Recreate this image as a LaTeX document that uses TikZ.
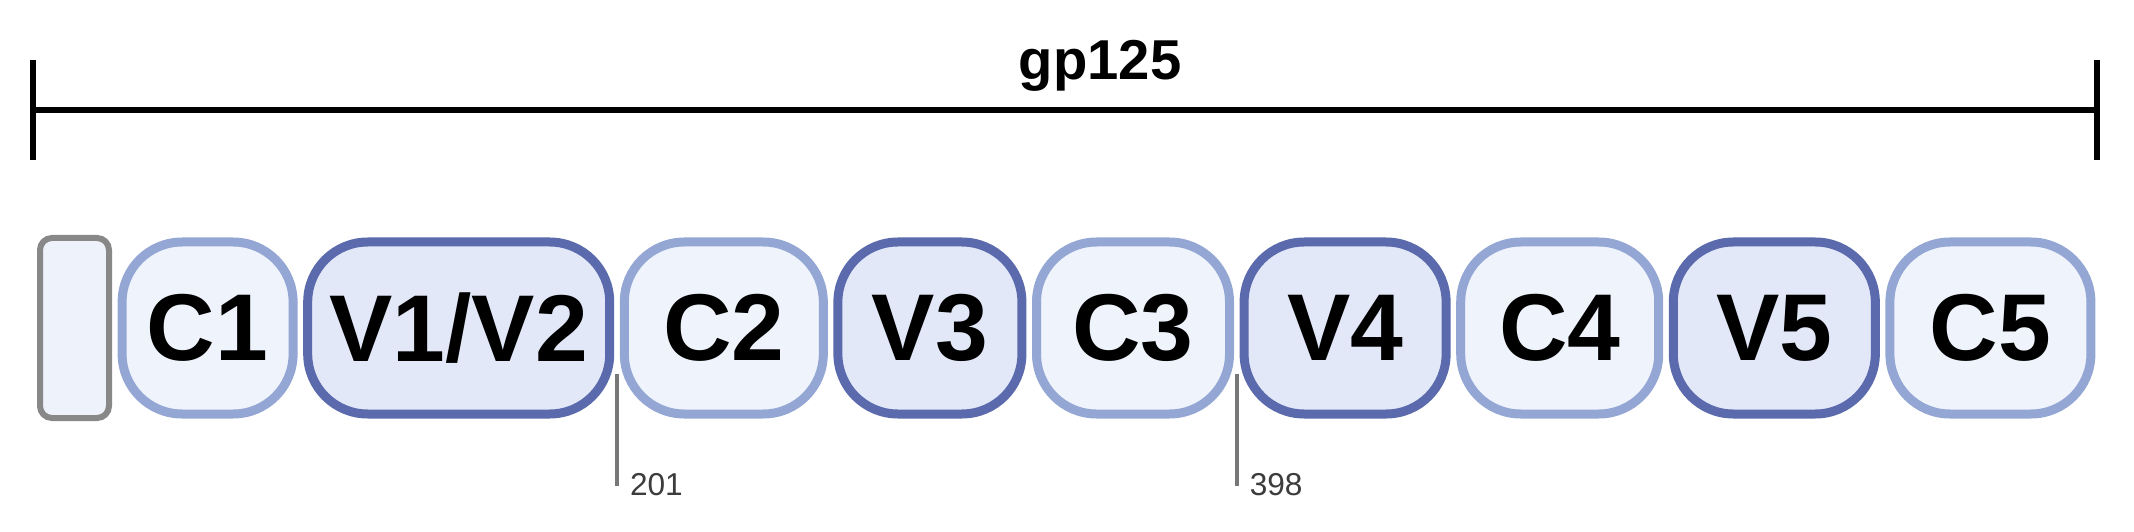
\documentclass[tikz,border=0pt]{standalone}
\usepackage{fontspec}
\setmainfont{Liberation Sans}
\usetikzlibrary{positioning,calc}
\definecolor{cline}{RGB}{148,166,212}
\definecolor{cfill}{RGB}{238,243,252}
\definecolor{vline}{RGB}{90,106,172}
\definecolor{vfill}{RGB}{226,232,248}
\definecolor{sigline}{RGB}{136,136,136}
\definecolor{sigfill}{RGB}{238,242,250}
\definecolor{cutline}{RGB}{120,120,120}
\definecolor{cuttext}{RGB}{60,60,60}
\newcommand{\domfont}{\fontsize{27}{32}\selectfont\bfseries}
\newcommand{\cutfont}{\fontsize{9}{10}\selectfont}

\begin{document}
\begin{tikzpicture}[
    cdom/.style={draw=cline, fill=cfill, line width=0.09cm, rounded corners=0.6cm,
      minimum height=1.72cm, inner sep=0pt, font=\domfont},
    vdom/.style={cdom, draw=vline, fill=vfill},
    signal/.style={draw=sigline, fill=sigfill, line width=0.06cm, rounded corners=0.12cm,
      minimum width=0.69cm, minimum height=1.80cm},
    span/.style={line width=0.06cm},
    cut/.style={draw=cutline, line width=0.04cm},
    cutlabel/.style={anchor=base west, inner sep=0pt, xshift=0.11cm, yshift=-0.1cm,
      text=cuttext, font=\cutfont},
    node distance=0.056cm
  ]
  \useasboundingbox (0,0) rectangle (21.34,5.31);
  \coordinate (gpL) at (0.33,4.21);
  \coordinate (gpR) at (20.97,4.21);
  \draw[span] (gpL) -- (gpR);
  \draw[span] ([yshift=0.5cm]gpL) -- ([yshift=-0.5cm]gpL);
  \draw[span] ([yshift=0.5cm]gpR) -- ([yshift=-0.5cm]gpR);
  \node[anchor=base, font=\fontsize{16}{19}\selectfont\bfseries] (gp) at (11.0,4.51) {gp125};

  \node[signal] (sp) at (0.745,2.03) {};
  \node[cdom, minimum width=1.71cm, right=of sp] (C1) {C1};
  \node[vdom, minimum width=3.02cm, right=of C1] (V12) {V1/V2};
  \node[cdom, minimum width=1.99cm, right=of V12] (C2) {C2};
  \node[vdom, minimum width=1.84cm, right=of C2] (V3) {V3};
  \node[cdom, minimum width=1.93cm, right=of V3] (C3) {C3};
  \node[vdom, minimum width=2.02cm, right=of C3] (V4) {V4};
  \node[cdom, minimum width=1.98cm, right=of V4] (C4) {C4};
  \node[vdom, minimum width=2.02cm, right=of C4] (V5) {V5};
  \node[cdom, minimum width=2.01cm, right=of V5] (C5) {C5};

  \coordinate (cutA) at ($(V12.south east)!0.5!(C2.south west)$);
  \coordinate (cutB) at ($(C3.south east)!0.5!(V4.south west)$);
  \draw[cut] ([yshift=0.45cm]cutA) -- ([yshift=-0.67cm]cutA) node[cutlabel] {201};
  \draw[cut] ([yshift=0.45cm]cutB) -- ([yshift=-0.67cm]cutB) node[cutlabel] {398};
\end{tikzpicture}
\end{document}
